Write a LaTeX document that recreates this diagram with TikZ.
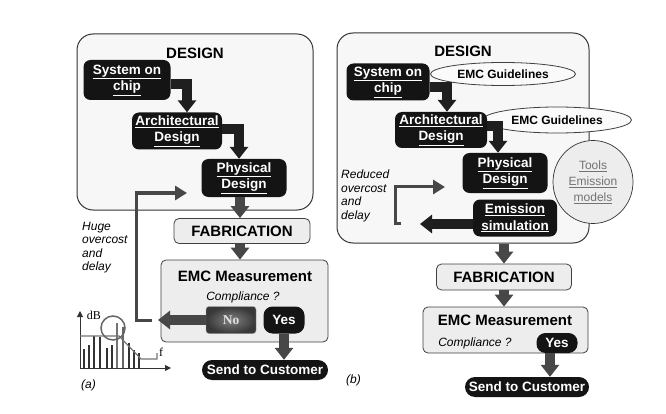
\documentclass[tikz,border=0pt]{standalone}
\usepackage{fontspec}
\setmainfont{Liberation Sans}
\newfontfamily\serifA{Liberation Serif}
\usetikzlibrary{arrows.meta,calc,shapes.geometric}
\tikzset{
  dsg/.style={draw=black!80, line width=1pt, fill=black!3, rounded corners=16pt, inner sep=0pt},
  gbox/.style={draw=black!75, line width=0.8pt, fill=black!7, rounded corners=5pt, inner sep=0pt},
  blk/.style={fill=black!92, rounded corners=7pt, text=white, inner sep=0pt, align=center,
     font=\bfseries\fontsize{13.5}{16.5}\selectfont},
  pill/.style={fill=black!92, rounded corners=10pt, text=white, inner sep=0pt, align=center,
     font=\bfseries\fontsize{13.5}{16}\selectfont},
  ttl/.style={font=\bfseries\fontsize{15}{17}\selectfont, inner sep=0pt},
  ital/.style={font=\itshape\fontsize{12}{13.5}\selectfont, inner sep=0pt, align=left},
  guide/.style={ellipse, draw=black!75, line width=0.8pt, fill=black!2, inner sep=0pt,
     font=\bfseries\fontsize{12}{14}\selectfont},
  big/.style={draw=black!88, line width=10pt, line join=miter, -{Triangle[width=18pt,length=12pt]}},
  bigo/.style={big, draw=black!72},
  thinfb/.style={draw=black!72, line width=3pt, line join=miter, -{Triangle[width=14pt,length=12pt]}},
  bar/.style={draw=black!80, line width=1.8pt},
}
\begin{document}
\begin{tikzpicture}[x=1pt,y=-1pt]
\useasboundingbox (0,0) rectangle (666,414);

% ================= LEFT (a) =================
\node[dsg, minimum width=236pt, minimum height=176pt] (designA) at (195,122) {};
\node[ttl] (dlabA) at (195,53) {DESIGN};
\node[blk, minimum width=87pt, minimum height=40pt] (socA) at (127,80) {\underline{System on}\\\underline{chip}};
\node[blk, minimum width=90pt, minimum height=37pt] (archA) at (177,131) {\underline{Architectural}\\\underline{Design}};
\node[blk, minimum width=85pt, minimum height=38pt] (physA) at (244,178) {\underline{Physical}\\\underline{Design}};
\node[gbox, minimum width=136pt, minimum height=25pt, ttl] (fabA) at (242,231) {FABRICATION};
\node[gbox, minimum width=167pt, minimum height=82pt] (emcA) at (244.5,301) {};
\node[ttl] (emcTA) at (245,276) {EMC Measurement};
\node[ital] (compA) at (243,297) {Compliance ?};
\node[draw=black!40, rounded corners=3pt, inner color=black!50, outer color=black!78,
      minimum width=50pt, minimum height=27pt, inner sep=0pt,
      text=black!12, font=\serifA\bfseries\fontsize{13.5}{15}\selectfont] (noA) at (231,320) {No};
\node[blk, minimum width=41pt, minimum height=27pt, rounded corners=9pt] (yesA) at (284,320) {Yes};
\node[pill, minimum width=126pt, minimum height=20pt] (sendA) at (265,370) {Send to Customer};

\draw[big] ($(socA.east)+(0,4)$) -| ($(archA.north)+(10,0)$);
\draw[big] ($(archA.east)+(0,-2)$) -| ($(physA.north)+(-5,0)$);
\draw[bigo] ($(physA.south)+(-4,0)$) -- ($(fabA.north)+(-2,0)$);
\draw[bigo] ($(fabA.south)+(-2,0)$) -- ($(emcA.north)+(-4.5,0)$);
\draw[bigo] (yesA.south) -- (yesA.south |- sendA.north);
\coordinate (noTip) at (158,320);
\draw[bigo] (noA.west) -- (noTip);
\coordinate (fbA0) at (152,320);
\coordinate (fbA1) at (187,193);
\draw[thinfb] (fbA0) -- ++(-16,0) |- (fbA1);

\node[ital, anchor=north west] (hugeA) at (82,222) {Huge\\overcost\\and\\delay};
\node[ital, anchor=north west] (labA) at (81,380) {(a)};

% chart
\draw[line width=1pt, black!80, -{Triangle[width=6pt,length=6pt]}] (80,368) -- (80,311);
\draw[line width=1pt, black!80, -{Triangle[width=6pt,length=6pt]}] (80,368) -- (171,368);
\node[font=\serifA\fontsize{12}{13}\selectfont, inner sep=0pt] (dbA) at (94,315) {dB};
\node[font=\serifA\fontsize{12}{13}\selectfont, inner sep=0pt] (fA) at (161,352) {f};
\foreach \x/\t in {84/349,89/345,94/336,100/337,107/348,112/345,129/343,134/350,139/353}
  \draw[bar] (\x,368) -- (\x,\t);
\draw[bar, black!55] (117,368) -- (117,323);
\draw[bar, black!60] (123,368) -- (123,327);
\draw[black!55, line width=1.2pt] (80,336) -- (119,336) -- (141,359) -- (157,359) -- (157,353);
\draw[black!60, line width=1.5pt] (113,328) circle (12);

% ================= RIGHT (b) =================
\node[dsg, minimum width=252pt, minimum height=210pt] (designB) at (463,138) {};
\node[ttl] (dlabB) at (463,51) {DESIGN};
\node[guide, minimum width=145pt, minimum height=23pt] (g1) at (503,74) {EMC Guidelines};
\node[guide, minimum width=149pt, minimum height=26pt] (g2) at (557,120) {EMC Guidelines};
\node[ellipse, draw=black!80, line width=0.7pt, fill=black!7, minimum width=80pt, minimum height=83pt,
      inner sep=0pt, align=center, text=black!55, font=\fontsize{12}{16}\selectfont] (tools) at (593,182)
      {\underline{Tools}\\\underline{Emission}\\\underline{models}};
\node[blk, minimum width=83pt, minimum height=37pt] (socB) at (388,82) {\underline{System on}\\\underline{chip}};
\node[blk, minimum width=92pt, minimum height=36pt] (archB) at (441,130) {\underline{Architectural}\\\underline{Design}};
\node[blk, minimum width=85pt, minimum height=40pt] (physB) at (505,173) {\underline{Physical}\\\underline{Design}};
\node[blk, minimum width=84pt, minimum height=37pt] (emisB) at (515,218) {\underline{Emission}\\\underline{simulation}};
\node[gbox, minimum width=135pt, minimum height=26pt, ttl] (fabB) at (504,277) {FABRICATION};
\node[gbox, minimum width=165pt, minimum height=46pt] (emcB) at (505.5,330) {};
\node[ttl] (emcTB) at (505,320) {EMC Measurement};
\node[ital] (compB) at (475,343) {Compliance ?};
\node[blk, minimum width=41pt, minimum height=20pt, rounded corners=9pt] (yesB) at (557,343) {Yes};
\node[pill, minimum width=124pt, minimum height=20pt] (sendB) at (527,387) {Send to Customer};

\draw[big] ($(socB.east)+(0,5)$) -| ($(archB.north)+(6,0)$);
\draw[big] ($(archB.east)+(0,-4)$) -| ($(physB.north)+(-7,0)$);
\draw[bigo] (designB.south -| fabB.north) -- (fabB.north);
\draw[bigo] (fabB.south) -- (fabB.south |- emcB.north);
\draw[bigo] ($(yesB.south)+(-7,0)$) -- ($(yesB.south |- sendB.north)+(-7,0)$);
\coordinate (emTip) at (420,224);
\draw[big] (emisB.west |- emTip) -- (emTip);
\coordinate (fbB0) at (401,223);
\coordinate (fbB1) at (445,187);
\draw[thinfb] (fbB0) -- ++(-6,0) |- (fbB1);

\node[ital, anchor=north west] (redB) at (341,170) {Reduced\\overcost\\and\\delay};
\node[ital, anchor=north west] (labB) at (346,375) {(b)};
\end{tikzpicture}
\end{document}
